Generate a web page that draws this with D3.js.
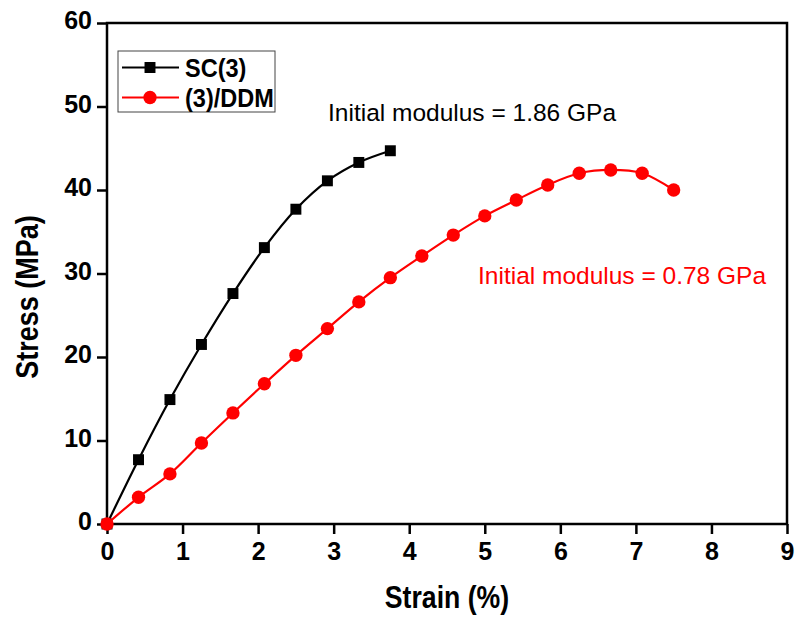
<!DOCTYPE html>
<html>
<head>
<meta charset="utf-8">
<script src="https://cdn.jsdelivr.net/npm/d3@7"></script>
<style>
  body { margin: 0; background: #fff; }
  svg { display: block; font-family: "Liberation Sans", Arial, sans-serif; }
</style>
</head>
<body>
<svg id="chart" width="800" height="619"></svg>
<script>
// Strain steps (%) shared by both samples
const strainSC = [0, 0.417, 0.833, 1.25, 1.667, 2.083, 2.5, 2.917, 3.333, 3.75];
const stressSC = [0, 7.7, 14.9, 21.5, 27.6, 33.1, 37.7, 41.1, 43.3, 44.7];

const strainDDM = [0, 0.417, 0.833, 1.25, 1.667, 2.083, 2.5, 2.917, 3.333, 3.75,
                   4.167, 4.583, 5.0, 5.417, 5.833, 6.25, 6.667, 7.083, 7.5];
const stressDDM = [0, 3.2, 6.0, 9.7, 13.3, 16.8, 20.2, 23.4, 26.6, 29.5,
                   32.1, 34.6, 36.9, 38.8, 40.6, 42.0, 42.4, 42.0, 40.0];

const xTicks = [0, 1, 2, 3, 4, 5, 6, 7, 8, 9];
const yTicks = [0, 10, 20, 30, 40, 50, 60];

const svg = d3.select("#chart");
const margin = { top: 23, right: 13, bottom: 95, left: 107 };
const W = 800, H = 619;
const iw = W - margin.left - margin.right;
const ih = H - margin.top - margin.bottom;

const x = d3.scaleLinear().domain([0, 9]).range([margin.left, margin.left + iw]);
const y = d3.scaleLinear().domain([0, 60]).range([margin.top + ih, margin.top]);

// frame
svg.append("rect")
    .attr("x", x(0)).attr("y", y(60))
    .attr("width", x(9) - x(0)).attr("height", y(0) - y(60))
    .attr("fill", "none").attr("stroke", "#000").attr("stroke-width", 2.5);

function styleTicks(g) {
    g.selectAll(".domain").remove();
    g.selectAll("line").attr("stroke-width", 2.5);
    g.selectAll("text")
        .attr("font-size", 25).attr("font-weight", "bold").attr("fill", "#000")
        .attr("font-family", "'Liberation Sans', Arial, sans-serif");
}

// x axis
const xAxis = svg.append("g").attr("transform", `translate(0,${y(0)})`);
xAxis.call(d3.axisBottom(x).tickValues(d3.range(0.5, 9, 1)).tickSize(6).tickFormat(""));
xAxis.call(d3.axisBottom(x).tickValues(xTicks).tickSize(10).tickPadding(8).tickFormat(d3.format("d")));
styleTicks(xAxis);

// y axis
const yAxis = svg.append("g").attr("transform", `translate(${x(0)},0)`);
yAxis.call(d3.axisLeft(y).tickValues(d3.range(5, 60, 10)).tickSize(6).tickFormat(""));
yAxis.call(d3.axisLeft(y).tickValues(yTicks).tickSize(10).tickPadding(5).tickFormat(d3.format("d")));
styleTicks(yAxis);
yAxis.selectAll("text").attr("dy", "0.22em");

// axis titles (slightly condensed bold, as in the original)
svg.append("text")
    .attr("transform", `translate(${(x(0) + x(9)) / 2},608) scale(0.86,1)`)
    .attr("text-anchor", "middle")
    .attr("font-size", 31).attr("font-weight", "bold")
    .text("Strain (%)");

svg.append("text")
    .attr("transform", `translate(38,297) rotate(-90) scale(0.87,1)`)
    .attr("text-anchor", "middle")
    .attr("font-size", 31).attr("font-weight", "bold")
    .text("Stress (MPa)");

// series
const series = [
    { name: "SC(3)", xs: strainSC, ys: stressSC, color: "#000", shape: "square" },
    { name: "(3)/DDM", xs: strainDDM, ys: stressDDM, color: "#ff0000", shape: "circle" }
];

const line = d3.line()
    .x(d => x(d[0]))
    .y(d => y(d[1]))
    .curve(d3.curveCatmullRom.alpha(0.5));

const symbolFor = s => d3.symbol()
    .type(s.shape === "square" ? d3.symbolSquare : d3.symbolCircle)
    .size(s.shape === "square" ? 120 : 140);

series.forEach(s => {
    const pts = s.xs.map((v, i) => [v, s.ys[i]]);
    svg.append("path")
        .datum(pts)
        .attr("d", line)
        .attr("fill", "none")
        .attr("stroke", s.color)
        .attr("stroke-width", 2.2);

    svg.append("g").selectAll("path")
        .data(pts)
        .join("path")
        .attr("transform", d => `translate(${x(d[0])},${y(d[1])})`)
        .attr("d", symbolFor(s))
        .attr("fill", s.color);
});

// annotations
svg.append("text")
    .attr("x", 328).attr("y", 121)
    .attr("font-size", 24.5).attr("fill", "#000")
    .text("Initial modulus = 1.86 GPa");

svg.append("text")
    .attr("x", 478).attr("y", 284)
    .attr("font-size", 24.5).attr("fill", "#ff0000")
    .text("Initial modulus = 0.78 GPa");

// legend
const legend = svg.append("g");
legend.append("rect")
    .attr("x", 118).attr("y", 51).attr("width", 157).attr("height", 61)
    .attr("fill", "#fff").attr("stroke", "#444").attr("stroke-width", 1);

series.forEach((s, i) => {
    const ly = 67.5 + i * 30;
    legend.append("line")
        .attr("x1", 122).attr("x2", 179).attr("y1", ly).attr("y2", ly)
        .attr("stroke", s.color).attr("stroke-width", 2.2);
    legend.append("path")
        .attr("transform", `translate(150,${ly})`)
        .attr("d", symbolFor(s))
        .attr("fill", s.color);
    legend.append("text")
        .attr("transform", `translate(185,${ly + 9}) scale(0.94,1)`)
        .attr("font-size", 25).attr("font-weight", "bold")
        .text(s.name);
});
</script>
</body>
</html>
